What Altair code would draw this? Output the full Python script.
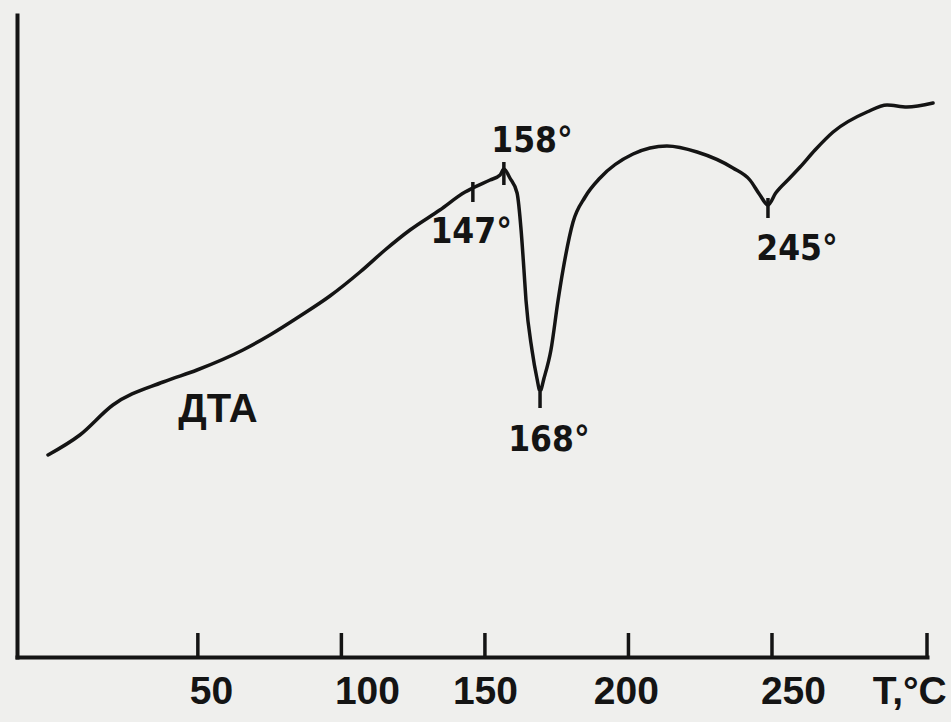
import altair as alt
import pandas as pd

# DTA curve (temperature °C, signal in arbitrary units)
temp = [-2.2, 8.9, 20.4, 37.9, 49.7, 65.7, 75.1, 85.6, 96.0, 106.5, 115.2, 123.9, 134.3,
        143.1, 145.8, 151.8, 155.3, 156.6, 158.7, 161.2, 162.6, 163.6, 164.3, 166.4,
        168.1, 169.2, 170.6, 173.0, 175.5, 177.2, 180.7, 184.9, 190.1, 201.6, 213.4,
        223.9, 236.4, 242.3, 245.8, 248.6, 251.3, 256.2, 259.8, 265.0, 271.3, 283.1, 290.1,
        297.0, 306.1]
signal = [202, 222, 252, 275, 287, 307, 322, 341, 361, 385, 407, 427, 447,
          465, 469, 477, 482, 488, 479, 464, 427, 387, 357, 307,
          279, 266, 279, 307, 357, 387, 435, 460, 479, 503, 511,
          505, 489, 477, 462, 452, 464, 479, 490, 507, 525, 545, 552,
          550, 554]

# short marks on the curve at the characteristic points
marker_temp = [145.8, 156.6, 169.2, 248.6]
marker_from = [455, 472, 265, 459]
marker_to = [475, 495, 249, 439]

# annotations
label_text = ["147°", "158°", "168°", "245°"]
label_temp = [145.2, 166.4, 172.3, 258.7]
label_signal = [425, 516, 217, 408]
curve_name = ["ДТА"]
curve_name_temp = [57.0]
curve_name_signal = [247]

# axis ticks (drawn upward) and their labels (hand-lettered, slightly off-centre)
tick_values = [50, 100, 150, 200, 250, 304]
tick_label_pos = [54.6, 108.9, 150.0, 199.1, 257.3, 297.8]
tick_labels = ["50", "100", "150", "200", "250", "T,°C"]

INK = "#141414"
BG = "#efefed"

curve = pd.DataFrame({"T": temp, "S": signal})
markers = pd.DataFrame({"T": marker_temp, "S1": marker_from, "S2": marker_to})
labels = pd.DataFrame({"T": label_temp, "S": label_signal, "txt": label_text})
names = pd.DataFrame({"T": curve_name_temp, "S": curve_name_signal, "txt": curve_name})
ticks = pd.DataFrame({"T": tick_values, "S1": [0] * len(tick_values), "S2": [24] * len(tick_values)})

xscale = alt.Scale(domain=[-13, 304], nice=False, zero=False)
yscale = alt.Scale(domain=[0, 642], nice=False, zero=False)

label_expr = " : ".join(
    [f"datum.value == {v} ? '{t}'" for v, t in zip(tick_label_pos, tick_labels)]
) + " : ''"

line = alt.Chart(curve).mark_line(
    color=INK, strokeWidth=3.5, interpolate="monotone", strokeCap="round", strokeJoin="round"
).encode(
    x=alt.X("T:Q", scale=xscale, title=None,
            axis=alt.Axis(values=tick_label_pos, labelExpr=label_expr, ticks=False, grid=False,
                          domain=True, domainWidth=4, domainColor=INK, domainCap="square",
                          labelFont="Liberation Sans", labelFontWeight="bold", labelFontSize=39,
                          labelColor=INK, labelPadding=15, labelOverlap=False, labelFlush=False)),
    y=alt.Y("S:Q", scale=yscale, title=None,
            axis=alt.Axis(ticks=False, labels=False, grid=False, domain=True, domainWidth=4,
                          domainColor=INK, domainCap="square")),
)

marks = alt.Chart(markers).mark_rule(color=INK, strokeWidth=3.5).encode(
    x=alt.X("T:Q", scale=xscale, title=None),
    y=alt.Y("S1:Q", scale=yscale, title=None),
    y2="S2:Q",
)

tick_rules = alt.Chart(ticks).mark_rule(color=INK, strokeWidth=3.5).encode(
    x=alt.X("T:Q", scale=xscale, title=None),
    y=alt.Y("S1:Q", scale=yscale, title=None),
    y2="S2:Q",
)

ann = alt.Chart(labels).mark_text(
    font="DejaVu Sans Condensed, Liberation Sans", fontWeight="bold", fontSize=35, color=INK,
    align="center", baseline="middle"
).encode(
    x=alt.X("T:Q", scale=xscale, title=None),
    y=alt.Y("S:Q", scale=yscale, title=None),
    text="txt:N",
)

name = alt.Chart(names).mark_text(
    font="Liberation Sans", fontWeight="bold", fontSize=40, color=INK,
    align="center", baseline="middle"
).encode(
    x=alt.X("T:Q", scale=xscale, title=None),
    y=alt.Y("S:Q", scale=yscale, title=None),
    text="txt:N",
)

chart = alt.layer(line, tick_rules, marks, ann, name).properties(
    width=910, height=642,
    autosize=alt.AutoSizeParams(type="none"),
    padding={"left": 17, "top": 15, "right": 24, "bottom": 65},
    background=BG,
).configure_view(stroke=None)

chart.save("out.html", embed_options={"renderer": "svg", "actions": False})
